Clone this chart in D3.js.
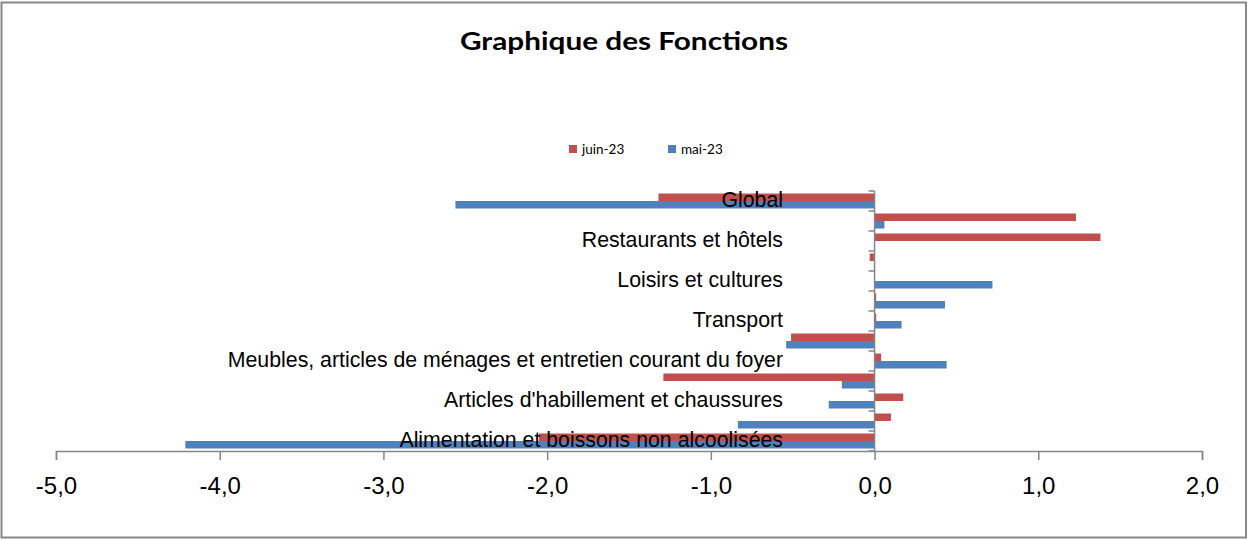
<!DOCTYPE html>
<html><head><meta charset="utf-8">
<script src="https://cdn.jsdelivr.net/npm/d3@7"></script>
<style>body{margin:0;background:#fff}svg{display:block}</style>
</head><body><svg id="c" width="1248" height="540"></svg>
<script>
const categories = [
  "Global",
  "Biens et services divers",
  "Restaurants et hôtels",
  "Enseignement",
  "Loisirs et cultures",
  "Communication",
  "Transport",
  "Santé",
  "Meubles, articles de ménages et entretien courant du foyer",
  "Logement, eau, électricité, gaz et autres combustibles",
  "Articles d'habillement et chaussures",
  "Boissons alcoolisées et tabac",
  "Alimentation et boissons non alcoolisées"
];
const shownLabels = [
  "Global", "Restaurants et hôtels", "Loisirs et cultures", "Transport",
  "Meubles, articles de ménages et entretien courant du foyer",
  "Articles d'habillement et chaussures",
  "Alimentation et boissons non alcoolisées"
];
const juin23 = [-1.32, 1.23, 1.38, -0.03, 0.00, 0.01, 0.01, -0.51, 0.04, -1.29, 0.175, 0.10, -2.05];
const mai23  = [-2.56, 0.06, 0.00, 0.00, 0.72, 0.43, 0.165, -0.54, 0.44, -0.20, -0.28, -0.835, -4.21];
const seriesNames = ["juin-23", "mai-23"];
const seriesColors = ["#c0504d", "#4f81bd"];
const xTicks = [-5, -4, -3, -2, -1, 0, 1, 2];

const svg = d3.select("#c");
svg.append("rect").attr("x", 1.5).attr("y", 2.5).attr("width", 1244.5).attr("height", 535)
  .attr("fill", "#fff").attr("stroke", "#888").attr("stroke-width", 2);

svg.append("text").attr("x", 624).attr("y", 50).attr("text-anchor", "middle")
  .attr("font-family", "Lato, 'Open Sans', sans-serif").attr("font-weight", "bold")
  .attr("font-size", 24).attr("textLength", 328).attr("lengthAdjust", "spacingAndGlyphs")
  .attr("fill", "#000").text("Graphique des Fonctions");

const x = d3.scaleLinear().domain([-5, 2]).range([56, 1202]);
const y = d3.scaleBand().domain(categories).range([191, 451]).padding(0);
const sub = d3.scaleBand().domain(seriesNames).range([0, y.bandwidth()]).paddingInner(0).paddingOuter(0.333);

const data = [juin23, mai23];
seriesNames.forEach((s, si) => {
  svg.append("g").selectAll("rect").data(categories).join("rect")
    .attr("x", (c, i) => x(Math.min(0, data[si][i])))
    .attr("width", (c, i) => Math.abs(x(data[si][i]) - x(0)))
    .attr("y", c => y(c) + sub(s))
    .attr("height", sub.bandwidth())
    .attr("fill", seriesColors[si]);
});

// x axis
const gx = svg.append("g").attr("transform", "translate(0,451)")
  .call(d3.axisBottom(x).tickValues(xTicks).tickSize(9).tickPadding(17)
    .tickFormat(d => d3.format(".1f")(d).replace(".", ",").replace("−", "-")));
gx.select(".domain").attr("stroke", "#868686").attr("stroke-width", 1.5);
gx.selectAll(".tick line").attr("stroke", "#868686").attr("stroke-width", 1.5);
gx.selectAll("text").attr("font-family", "'Liberation Sans', Arial, sans-serif").attr("font-size", 24).attr("fill", "#000");

// y axis line and band-boundary ticks
const bounds = categories.map(c => y(c)).concat([y.range()[1]]);
svg.append("line").attr("x1", x(0)).attr("x2", x(0)).attr("y1", 191).attr("y2", 451)
  .attr("stroke", "#868686").attr("stroke-width", 1.5);
svg.append("g").selectAll("line").data(bounds).join("line")
  .attr("x1", x(0) - 6).attr("x2", x(0)).attr("y1", d => d).attr("y2", d => d)
  .attr("stroke", "#868686").attr("stroke-width", 1.5);

// category labels
svg.append("g").selectAll("text").data(shownLabels).join("text")
  .attr("x", 783).attr("y", c => y(c) + y.bandwidth() / 2)
  .attr("dy", "0.3em").attr("text-anchor", "end")
  .attr("font-family", "'Liberation Sans', Arial, sans-serif").attr("font-size", 21.3).attr("fill", "#000")
  .text(c => c);

// legend
const legX = [569, 668];
seriesNames.forEach((s, i) => {
  svg.append("rect").attr("x", legX[i]).attr("y", 145).attr("width", 8).attr("height", 8).attr("fill", seriesColors[i]);
  svg.append("text").attr("x", legX[i] + 13).attr("y", 154)
    .attr("font-family", "Lato, 'Open Sans', sans-serif").attr("font-size", 13.5).attr("fill", "#000").text(s);
});
</script></body></html>
